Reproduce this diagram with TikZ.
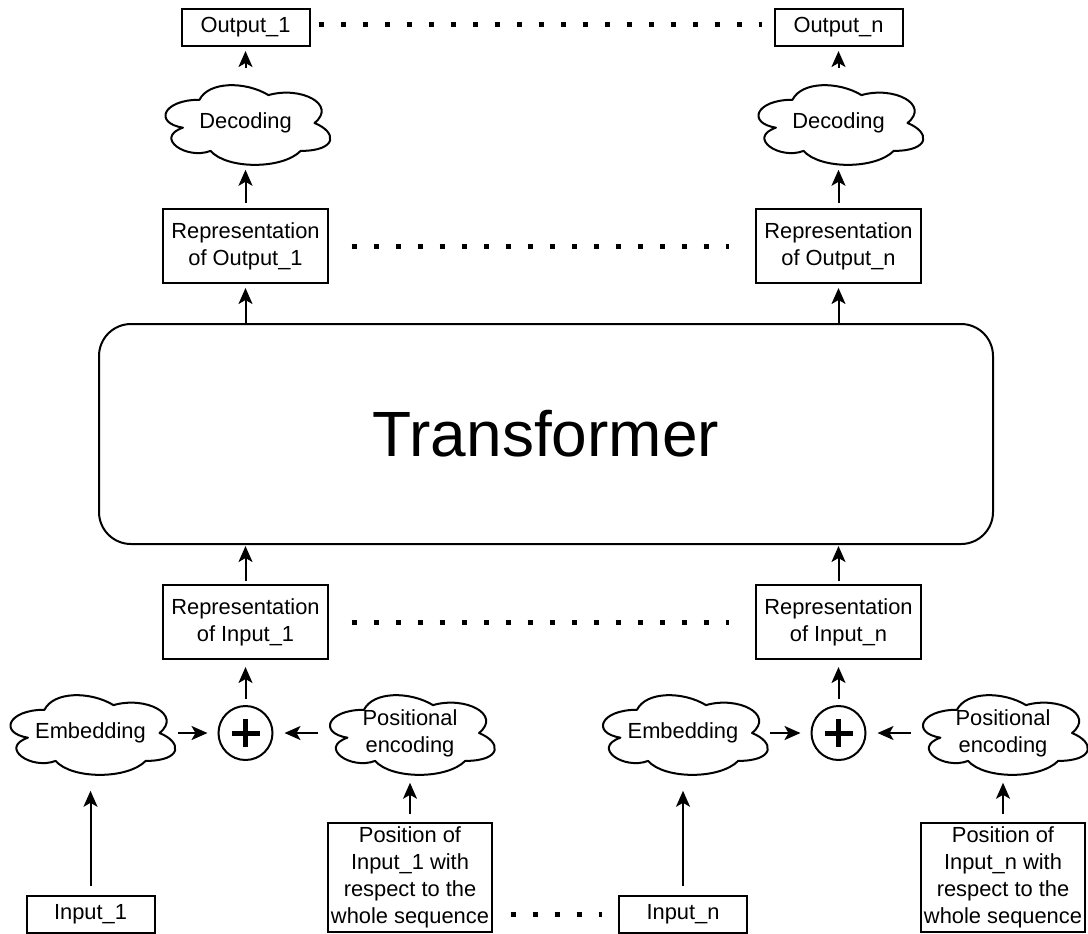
\documentclass[tikz,border=0pt]{standalone}
\usepackage{fontspec}
\setmainfont{Liberation Sans}
\usetikzlibrary{arrows.meta}

% cloud outline drawn inside a 184 x 93 frame centred on (#2,#3)
\newcommand\cloudnode[4]{%
  \node[cloudtext] (#1) at (#2,#3) {#4};
  \draw[stroke, line join=round, shift={({#2-92},{#3-46.5})}, xscale=184, yscale=93]
    (0.25,0.25) .. controls (0.05,0.25) and (0,0.5) .. (0.16,0.55)
    .. controls (0,0.66) and (0.18,0.9) .. (0.31,0.8)
    .. controls (0.4,1) and (0.7,1) .. (0.8,0.8)
    .. controls (1,0.8) and (1,0.6) .. (0.875,0.5)
    .. controls (1,0.3) and (0.8,0.1) .. (0.625,0.2)
    .. controls (0.5,0.05) and (0.3,0.05) .. (0.25,0.25) -- cycle;
}

\begin{document}
\begin{tikzpicture}[x=0.75pt,y=-0.75pt,
  stroke/.style={line width=1.5pt},
  txt/.style={font=\fontsize{16.4}{20.25}\selectfont},
  box/.style={stroke, draw, inner sep=0pt, align=center, txt},
  outbox/.style={box, minimum width=96pt, minimum height=27.75pt},
  repbox/.style={box, minimum width=123.75pt, minimum height=55.5pt},
  posbox/.style={box, minimum width=123pt, minimum height=81.75pt},
  cloudtext/.style={inner sep=0pt, align=center, txt, minimum width=138pt, minimum height=69.75pt},
  sumnode/.style={stroke, draw, circle, inner sep=0pt, minimum size=40.5pt},
  plusbar/.style={line width=3.75pt},
  link/.style={stroke, -{Stealth[length=12pt,width=10.5pt,inset=3pt]}},
  dotline/.style={line width=3.75pt, dash pattern=on 3.75pt off 12.75pt},
]
\useasboundingbox (0,0) rectangle (1088,933);

% central block
\node[stroke, draw, rounded corners=24pt, minimum width=670.5pt, minimum height=165pt,
      font=\fontsize{48}{58}\selectfont] (T) at (546,434) {Transformer};

% ---- left column ----
\node[outbox] (out1) at (245.5,27.5) {Output\_1};
\cloudnode{dec1}{245.5}{123}{Decoding}
\node[repbox] (ro1) at (245.5,246) {Representation\\of Output\_1};
\node[repbox] (ri1) at (245.5,622) {Representation\\of Input\_1};
\node[sumnode] (p1) at (245.5,733) {};
\draw[plusbar] ([xshift=-10.5pt]p1.center) -- ([xshift=10.5pt]p1.center);
\draw[plusbar] ([yshift=-10.5pt]p1.center) -- ([yshift=10.5pt]p1.center);
\cloudnode{emb1}{90.5}{733}{Embedding}
\cloudnode{pe1}{410}{733}{Positional\\encoding}
\node[outbox] (in1) at (90.5,914) {Input\_1};
\node[posbox] (pos1) at (410,877.5) {Position of\\Input\_1 with\\respect to the\\whole sequence};

% ---- right column ----
\node[outbox] (outn) at (838.5,27.5) {Output\_n};
\cloudnode{decn}{838.5}{123}{Decoding}
\node[repbox] (ron) at (838.5,246) {Representation\\of Output\_n};
\node[repbox] (rin) at (838.5,622) {Representation\\of Input\_n};
\node[sumnode] (pn) at (838.5,733) {};
\draw[plusbar] ([xshift=-10.5pt]pn.center) -- ([xshift=10.5pt]pn.center);
\draw[plusbar] ([yshift=-10.5pt]pn.center) -- ([yshift=10.5pt]pn.center);
\cloudnode{embn}{683}{733}{Embedding}
\cloudnode{pen}{1003}{733}{Positional\\encoding}
\node[outbox] (inn) at (683,914) {Input\_n};
\node[posbox] (posn) at (1003,877.5) {Position of\\Input\_n with\\respect to the\\whole sequence};

% ---- arrows ----
\foreach \c/\o/\d/\r/\s/\p/\e/\q/\i/\b in
  {1/out1/dec1/ro1/ri1/p1/emb1/pe1/in1/pos1, n/outn/decn/ron/rin/pn/embn/pen/inn/posn}{
  \draw[link, shorten <=6.4pt, shorten >=3pt] (\d.north) -- (\o.south);
  \draw[link, shorten <=3.75pt] (\r.north) -- (\d.south);
  \draw[link, shorten >=3pt] (\r.south |- T.north) -- (\r.south);
  \draw[link, shorten <=2.25pt, shorten >=0.75pt] (\s.north) -- (\s.north |- T.south);
  \draw[link, shorten <=4.5pt, shorten >=5.25pt] (\p.north) -- (\s.south);
  \draw[link, shorten <=-3.75pt, shorten >=7.5pt] (\e.east) -- (\p.west);
  \draw[link, shorten >=8.25pt] (\q.west) -- (\p.east);
  \draw[link, shorten <=6.4pt, shorten >=8.25pt] (\i.north) -- (\e.south);
  \draw[link, shorten <=6pt, shorten >=2.25pt] (\b.north) -- (\q.south);
}

% ---- ellipsis rows ----
\draw[dotline, shorten <=6.375pt, shorten >=8.625pt]
  ([yshift=1.9pt]out1.east) -- ([yshift=1.9pt]outn.west);
\draw[dotline, shorten <=16.875pt, shorten >=19.875pt] (ro1.east) -- (ron.west);
\draw[dotline, shorten <=16.875pt, shorten >=19.875pt] (ri1.east) -- (rin.west);
\draw[dotline, shorten <=13.125pt, shorten >=12.375pt] (pos1.east |- inn.west) -- (inn.west);
\end{tikzpicture}
\end{document}
